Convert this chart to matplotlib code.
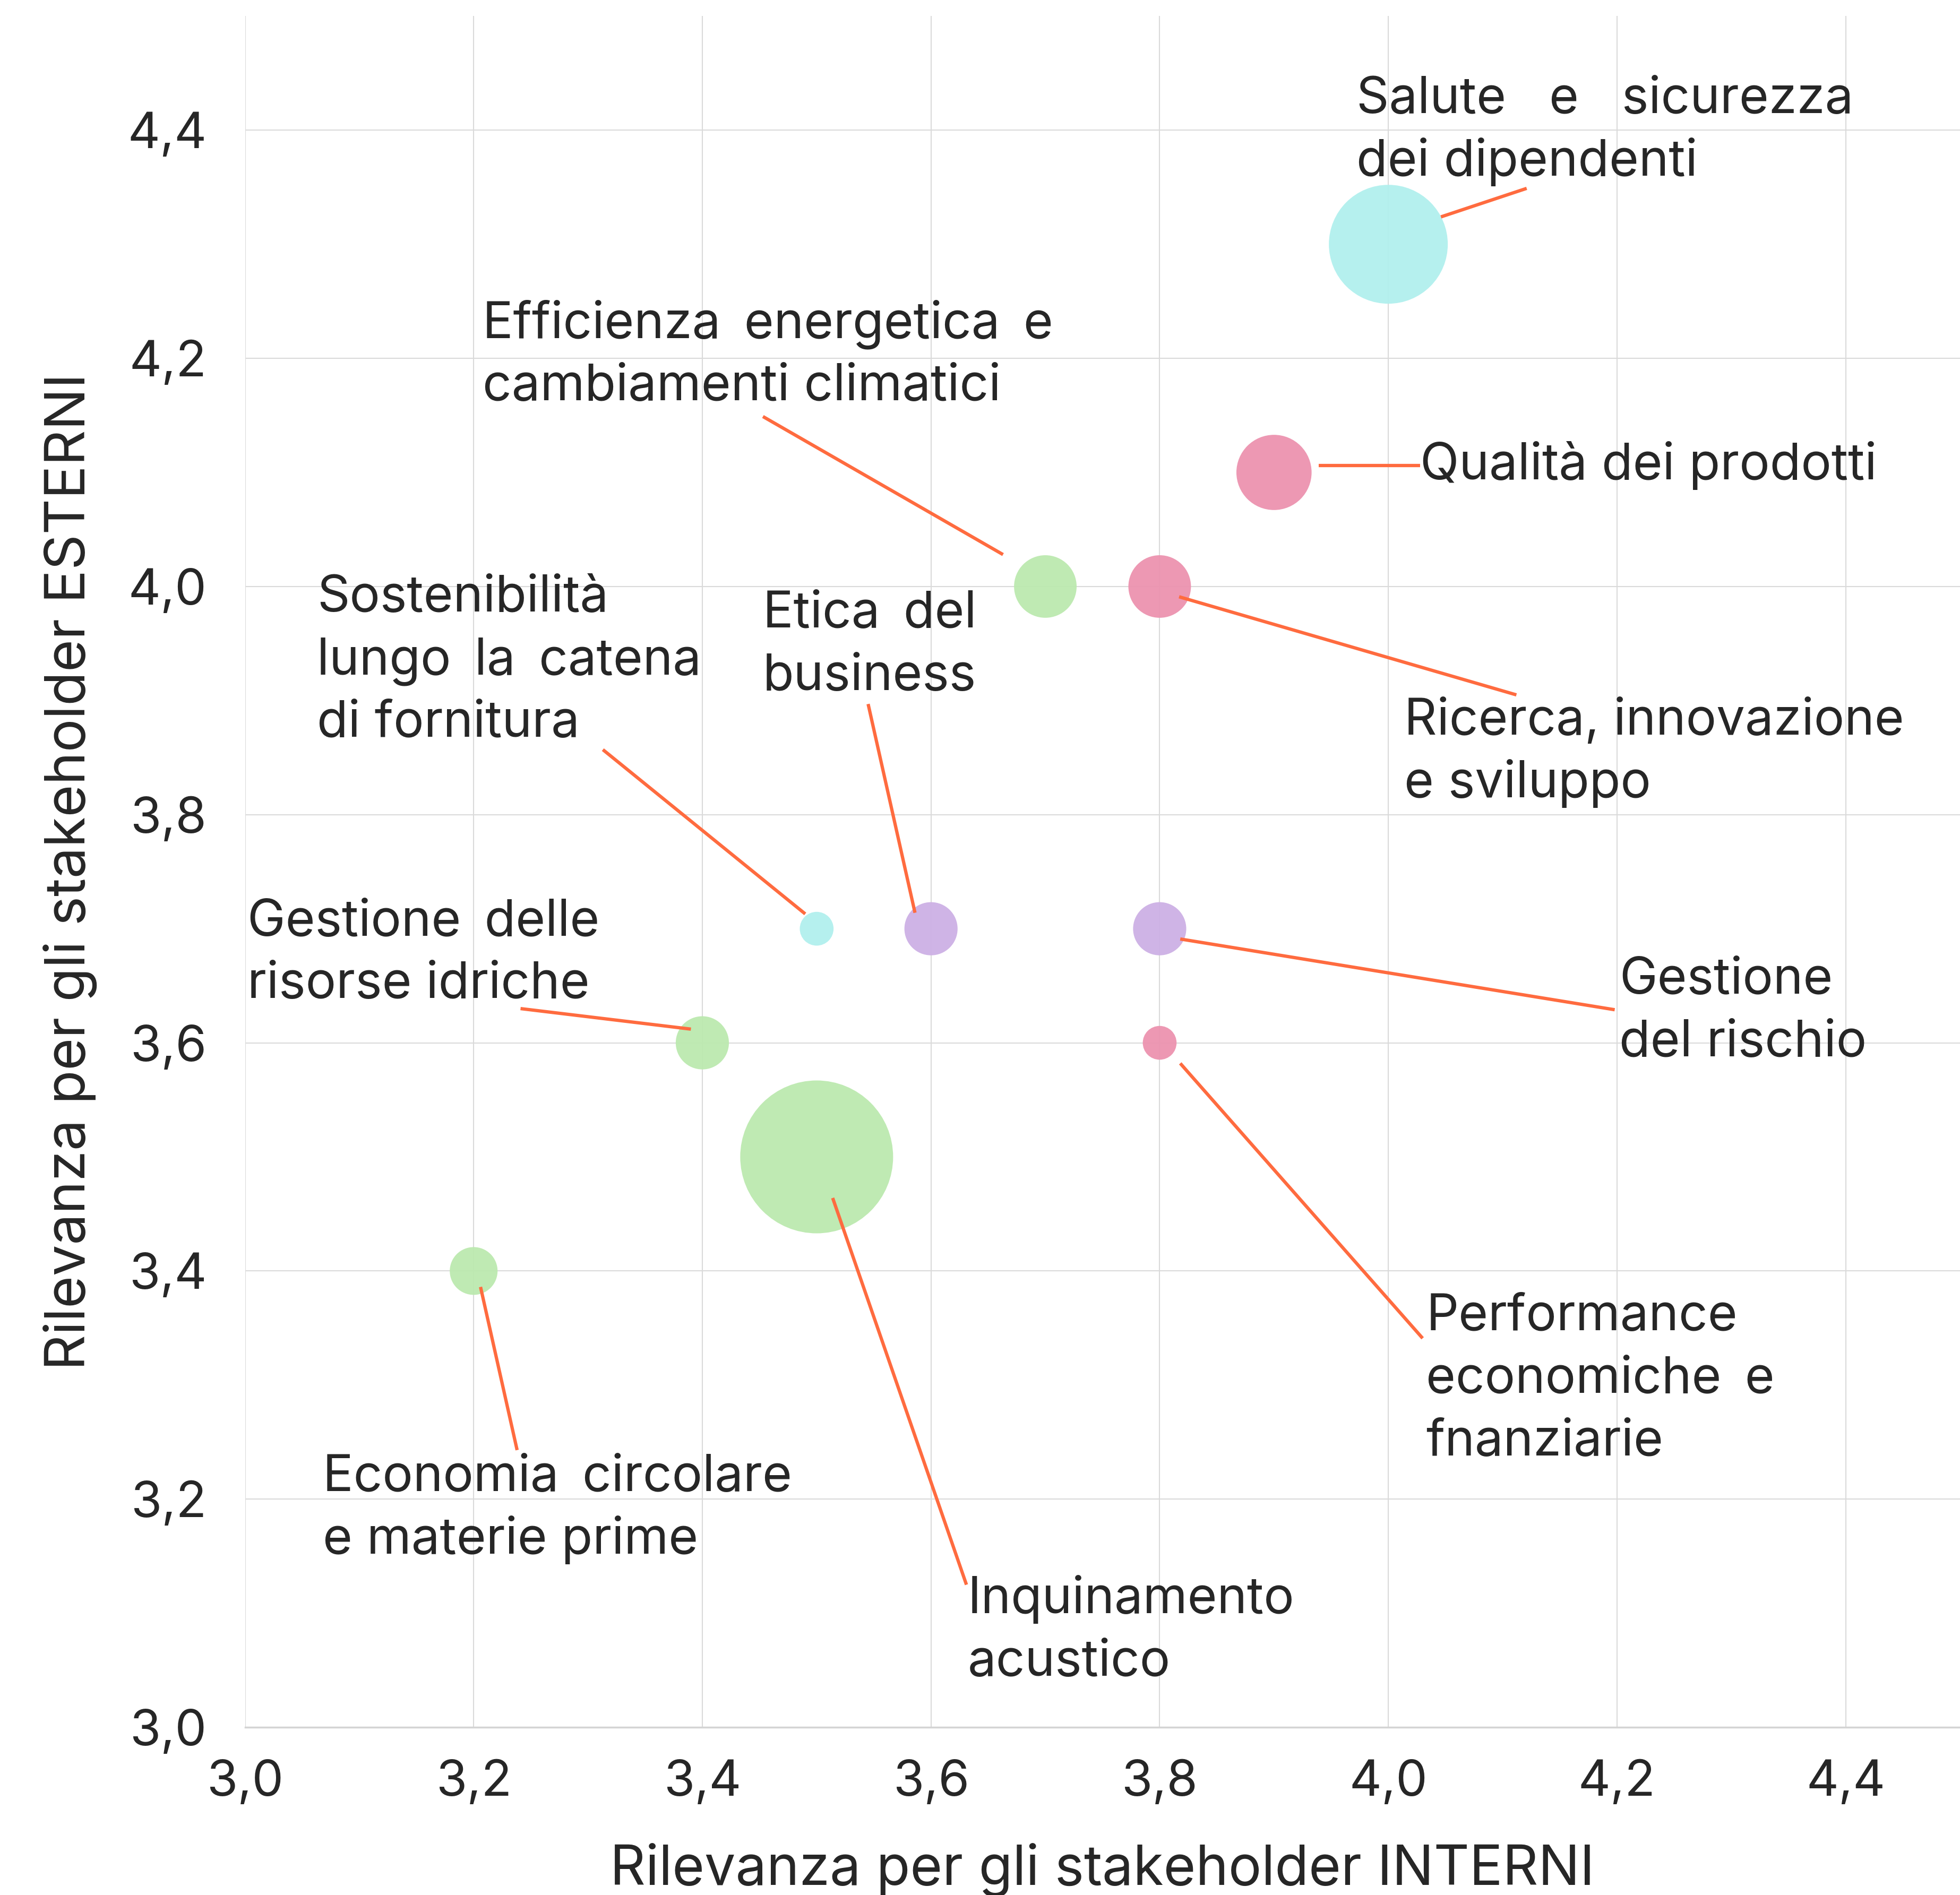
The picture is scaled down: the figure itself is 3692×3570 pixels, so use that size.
import matplotlib.pyplot as plt
from matplotlib.ticker import FuncFormatter, MultipleLocator

FONT = 'Inter'
TEXT_SIZE = 69
AXIS_LABEL_SIZE = 75
TICK_SIZE = 68
TEXT_COLOR = '#262626'
LEADER_COLOR = '#FF6B3F'
LINE_STEP = 0.0548   # distanza tra le righe delle etichette, in unità dell'asse y
G = '\u2009 '        # spazio allargato tra le parole

# Temi materiali: (interni, esterni), area della bolla, gruppo colore
temi = [
    'Salute   e   sicurezza\ndei dipendenti',
    'Qualità dei prodotti',
    'Ricerca, innovazione\ne sviluppo',
    f'Efficienza{G}energetica{G}e\ncambiamenti climatici',
    f'Sostenibilità\nlungo{G}la{G}catena\ndi fornitura',
    f'Etica{G}del\nbusiness',
    'Gestione\ndel rischio',
    f'Gestione{G}delle\nrisorse idriche',
    f'Performance\neconomiche{G}e\nfnanziarie',
    'Inquinamento\nacustico',
    f'Economia{G}circolare\ne materie prime',
]
interni = [4.0, 3.9, 3.8, 3.7, 3.5, 3.6, 3.8, 3.4, 3.8, 3.5, 3.2]
esterni = [4.3, 4.1, 4.0, 4.0, 3.7, 3.7, 3.7, 3.6, 3.6, 3.5, 3.4]
dimensione = [26000, 10400, 7200, 7200, 2100, 5200, 5200, 5200, 2100, 43000, 4200]
gruppo = ['sociale', 'prodotto', 'prodotto', 'ambiente', 'sociale', 'governance',
          'governance', 'ambiente', 'prodotto', 'ambiente', 'ambiente']

colori = {
    'sociale': '#B1F0EE',
    'prodotto': '#EC93AF',
    'ambiente': '#BCE9AF',
    'governance': '#CDB0E5',
}

# posizione etichette (inizio prima riga, linea di base)
etichetta_x = [3.972, 4.028, 4.014, 3.208, 3.063, 3.453, 4.202, 3.002, 4.033, 3.632, 3.068]
etichetta_y = [4.415, 4.094, 3.870, 4.218, 3.978, 3.964, 3.643, 3.694, 3.348, 3.100, 3.207]

# linee di richiamo: (x1, y1, x2, y2)
richiami = [
    (4.046, 4.324, 4.121, 4.349),
    (3.939, 4.106, 4.028, 4.106),
    (3.817, 3.991, 4.112, 3.905),
    (3.453, 4.149, 3.663, 4.028),
    (3.313, 3.857, 3.490, 3.713),
    (3.545, 3.897, 3.586, 3.714),
    (3.818, 3.691, 4.198, 3.629),
    (3.241, 3.630, 3.390, 3.612),
    (3.818, 3.582, 4.030, 3.341),
    (3.514, 3.464, 3.631, 3.125),
    (3.206, 3.386, 3.238, 3.243),
]

plt.rcParams['font.family'] = [FONT, 'DejaVu Sans']

fig = plt.figure(figsize=(36.92, 35.70), dpi=100)
ax = fig.add_axes([0.125, 0.0885, 0.875, 0.903])

ax.scatter(interni, esterni, s=dimensione, c=[colori[g] for g in gruppo],
           linewidths=0, alpha=0.95, zorder=2)

for (x1, y1, x2, y2) in richiami:
    ax.plot([x1, x2], [y1, y2], color=LEADER_COLOR, linewidth=4.5,
            solid_capstyle='butt', zorder=3)

# ogni riga disegnata sulla propria linea di base
for testo, x, y in zip(temi, etichetta_x, etichetta_y):
    for i, riga in enumerate(testo.split('\n')):
        ax.text(x, y - i * LINE_STEP, riga, fontsize=TEXT_SIZE, color=TEXT_COLOR,
                ha='left', va='baseline', zorder=4)

ax.set_xlim(3.0, 4.5)
ax.set_ylim(3.0, 4.5)
ax.xaxis.set_major_locator(MultipleLocator(0.2))
ax.yaxis.set_major_locator(MultipleLocator(0.2))
virgola = FuncFormatter(lambda v, p: f'{v:.1f}'.replace('.', ','))
ax.xaxis.set_major_formatter(virgola)
ax.yaxis.set_major_formatter(virgola)

ax.grid(True, color='#DADADA', linewidth=1.5, zorder=0)
ax.set_axisbelow(True)
for lato in ['top', 'right', 'left']:
    ax.spines[lato].set_visible(False)
ax.spines['bottom'].set_color('#D4D4D4')
ax.spines['bottom'].set_linewidth(2.5)

ax.tick_params(axis='x', length=0, pad=44, labelsize=TICK_SIZE, labelcolor=TEXT_COLOR)
ax.tick_params(axis='y', length=0, pad=52, labelsize=TICK_SIZE, labelcolor=TEXT_COLOR)

ax.set_xlabel('Rilevanza per gli stakeholder INTERNI', fontsize=AXIS_LABEL_SIZE,
              color=TEXT_COLOR, labelpad=50)
ax.set_ylabel('Rilevanza per gli stakeholder ESTERNI', fontsize=AXIS_LABEL_SIZE,
              color=TEXT_COLOR, labelpad=41)

fig.savefig('out.png', dpi=100)
